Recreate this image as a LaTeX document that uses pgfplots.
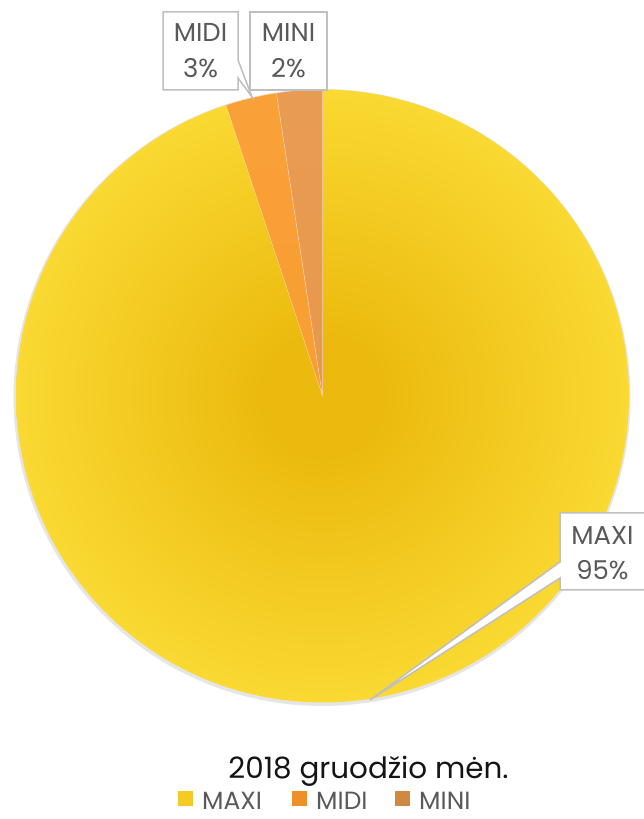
\documentclass[border=0pt]{standalone}
\usepackage{pgfplots}
\pgfplotsset{compat=1.18}
\usepackage{fontspec}
\setmainfont{Poppins}
\definecolor{yin}{RGB}{236,186,14}
\definecolor{yout}{RGB}{249,217,50}
\definecolor{miditop}{RGB}{249,160,55}
\definecolor{midimid}{RGB}{232,132,28}
\definecolor{midibot}{RGB}{248,158,50}
\definecolor{minitop}{RGB}{232,156,82}
\definecolor{minimid}{RGB}{192,124,52}
\definecolor{minibot}{RGB}{232,152,76}
\definecolor{boxgray}{RGB}{191,191,191}
\definecolor{labgray}{RGB}{89,89,89}
\pgfdeclareradialshading{pieyellow}{\pgfpoint{0bp}{0bp}}{color(0bp)=(yin); color(5bp)=(yin); color(25bp)=(yout); color(50bp)=(yout)}
% data (percent)
\def\vMAXI{94.9}
\def\vMIDI{2.7}
\def\vMINI{2.4}
\def\cx{322.5}
\def\cy{423}
\def\r{306.5}
\pgfmathsetmacro{\aA}{\vMAXI*3.6}
\pgfmathsetmacro{\aB}{(\vMAXI+\vMIDI)*3.6}
\pgfmathsetmacro{\aC}{(\vMAXI+\vMIDI+\vMINI)*3.6}
\begin{document}
\begin{tikzpicture}
\useasboundingbox (0,0) rectangle (644bp,819bp);
\begin{axis}[
  width=644bp, height=819bp, scale only axis,
  xmin=0, xmax=644, ymin=0, ymax=819,
  hide axis, clip=false,
]
% shadow
\addplot[draw=none, fill=black, fill opacity=0.10, domain=0:360, samples=181]
  ({\cx-0.5+(\r+2)*sin(x)},{\cy-1.5+(\r+2)*cos(x)}) -- cycle;
% MAXI
\addplot[shading=pieyellow, draw=none, domain=0:\aA, samples=220]
  ({\cx+\r*sin(x)},{\cy+\r*cos(x)}) -- (axis cs:\cx,\cy) -- cycle;
% MIDI
\addplot[top color=miditop, middle color=midimid, bottom color=midibot,
  draw=white, draw opacity=0.4, line width=0.5bp, domain=\aA:\aB, samples=20]
  ({\cx+\r*sin(x)},{\cy+\r*cos(x)}) -- (axis cs:\cx,\cy) -- cycle;
% MINI
\addplot[top color=minitop, middle color=minimid, bottom color=minibot,
  draw=white, draw opacity=0.4, line width=0.5bp, domain=\aB:\aC, samples=20]
  ({\cx+\r*sin(x)},{\cy+\r*cos(x)}) -- (axis cs:\cx,\cy) -- cycle;
% callouts
\draw[boxgray, line width=1.5bp, fill=white] (axis cs:163,807) -- (axis cs:238,807) -- (axis cs:238,759)
  -- (axis cs:252,722) -- (axis cs:238,741) -- (axis cs:238,729) -- (axis cs:163,729) -- cycle;
\draw[boxgray, line width=1.5bp, fill=white] (axis cs:250,729) rectangle (axis cs:327,807);
\draw[boxgray, line width=1.5bp, fill=white] (axis cs:560,306) -- (axis cs:646,306) -- (axis cs:646,229)
  -- (axis cs:560,229) -- (axis cs:560,241) -- (axis cs:370,119) -- (axis cs:560,257) -- cycle;
\begin{scope}[every node/.style={anchor=base, inner sep=0pt, text=labgray, font=\fontsize{26}{30}\selectfont}]
\node at (axis cs:200.5,777) {MIDI};
\node at (axis cs:200.5,741) {3\%};
\node at (axis cs:288.5,777) {MINI};
\node at (axis cs:288.5,741) {2\%};
\node at (axis cs:602.5,274) {MAXI};
\node at (axis cs:602.5,239) {95\%};
\end{scope}
\node[anchor=base, inner sep=0pt, text=black!92, font=\fontsize{29.5}{34}\selectfont] at (axis cs:368.5,40) {2018 gruodžio mėn.};
% legend
\fill[yin!45!yout] (axis cs:178,13) rectangle (axis cs:193,28);
\fill[midimid!60!miditop] (axis cs:292,13) rectangle (axis cs:307,28);
\fill[minimid!60!minitop] (axis cs:395,13) rectangle (axis cs:410,28);
\begin{scope}[every node/.style={anchor=base west, inner sep=0pt, text=labgray, font=\fontsize{25}{30}\selectfont}]
\node at (axis cs:202,10) {MAXI};
\node at (axis cs:316,10) {MIDI};
\node at (axis cs:419,10) {MINI};
\end{scope}
\end{axis}
\end{tikzpicture}
\end{document}
